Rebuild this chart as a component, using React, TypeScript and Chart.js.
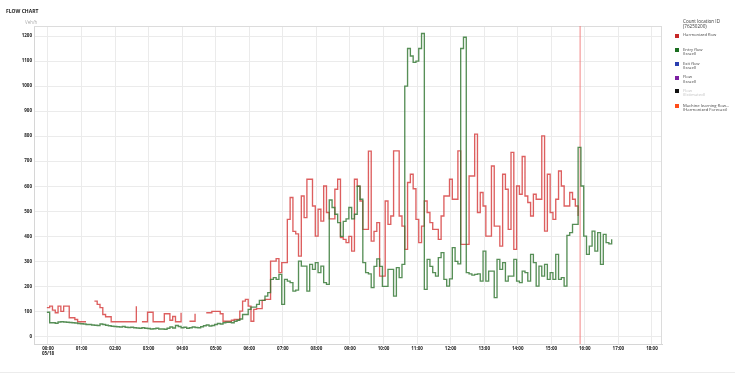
import React, { useEffect, useRef } from "react";
import { Chart, registerables } from "chart.js";

Chart.register(...registerables);

// ---- Data (5-minute intervals starting at 00:00) ----
const STEP_MINUTES = 5;
const DATA_OFFSET_MINUTES = -2;

const HARMONIZED_FLOW: (number | null)[] = [
  115, 121, 105, 95, 121, 100, 121, 121, 75, 75, 68, 59,
  59, 59, 59, null, null, 141, 128, 115, 88, 79, 79, 59,
  59, 59, 59, 59, 59, 59, 59, 59, 121, null, 59, 59,
  97, 97, 59, 59, 59, 59, 91, 91, 65, 80, 59, 59,
  95, null, null, 61, 61, 91, null, null, null, 95, 95, 100,
  100, 100, 91, 61, 61, 61, 65, 68, 68, 101, 141, 148,
  121, 61, 108, 111, 111, 144, 148, 148, 301, 301, 311, 255,
  295, 295, 468, 555, 420, 410, 321, 561, 475, 628, 628, 521,
  401, 508, 461, 601, 495, 470, 470, 588, 628, 395, 388, 375,
  400, 341, 628, 600, 541, 428, 428, 740, 381, 420, 455, 241,
  241, 541, 448, 481, 741, 741, 481, 441, 348, 615, 648, 590,
  468, 375, 441, 541, 495, 455, 428, 428, 388, 481, 561, 561,
  628, 548, 548, 741, 368, 368, 368, 641, 641, 808, 495, 575,
  521, 401, 401, 681, 441, 441, 361, 648, 588, 428, 735, 348,
  601, 568, 719, 561, 535, 481, 568, 548, 548, 801, 421, 648,
  495, 468, 548, 661, 601, 521, 521, 575, 548, 521, 481,
];

const ENTRY_FLOW: number[] = [
  97, 55, 55, 53, 58, 59, 58, 57, 56, 55, 54, 52,
  51, 50, 48, 48, 46, 45, 44, 50, 48, 45, 43, 41,
  40, 39, 38, 40, 37, 36, 37, 35, 34, 33, 35, 33,
  32, 30, 31, 33, 30, 30, 29, 33, 38, 34, 44, 40,
  35, 37, 33, 35, 38, 36, 35, 39, 43, 46, 42, 44,
  48, 52, 50, 55, 57, 57, 55, 61, 65, 70, 88, 88,
  108, 117, 117, 128, 144, 144, 161, 175, 228, 235, 228, 248,
  128, 228, 221, 215, 181, 185, 301, 281, 281, 181, 288, 268,
  295, 255, 281, 215, 208, 545, 515, 488, 455, 400, 460, 470,
  515, 470, 488, 600, 548, 295, 255, 250, 195, 280, 310, 280,
  200, 200, 268, 268, 161, 275, 235, 288, 1000, 1150, 1120, 1095,
  1100, 1150, 1210, 188, 308, 280, 255, 241, 315, 335, 228, 201,
  230, 355, 300, 290, 1150, 1195, 255, 250, 245, 248, 250, 221,
  341, 221, 261, 261, 155, 308, 268, 295, 221, 241, 241, 308,
  221, 215, 261, 255, 221, 328, 295, 201, 281, 241, 288, 228,
  255, 228, 328, 228, 235, 201, 404, 415, 448, 448, 755, 601,
  401, 328, 361, 421, 341, 415, 288, 408, 375, 370, 388,
];

const HOUR_TICKS = [0, 1, 2, 3, 4, 5, 6, 7, 8, 9, 10, 11, 12, 13, 14, 15, 16, 17, 18];
const HOUR_LABELS = [
  "00:00", "01:00", "02:00", "03:00", "04:00", "05:00", "06:00", "07:00", "08:00", "09:00",
  "10:00", "11:00", "12:00", "13:00", "14:00", "15:00", "16:00", "17:00", "18:00",
];
const DATE_LABEL = "05/18";
const Y_TICKS = [0, 100, 200, 300, 400, 500, 600, 700, 800, 900, 1000, 1100, 1200];
const X_MIN = -0.417;
const X_MAX = 18.3;
const Y_MIN = -30;
const Y_MAX = 1240;
const NOW_HOUR = 15.86;

const TITLE = "FLOW CHART";
const UNIT = "Veh/h";
const LEGEND_TITLE = ["Count location ID", "(76250200)"];
const LEGEND_LABELS = [
  ["Harmonized flow"],
  ["Entry flow", "(Israel)"],
  ["Exit flow", "(Israel)"],
  ["Flow", "(Israel)"],
  ["Flow", "(Estimated)"],
  ["Machine learning flow...", "(Harmonized Forecast)"],
];
const LEGEND_COLORS = ["#c62828", "#1b6e20", "#2b3fb0", "#7b1fa2", "#111111", "#ff4d1a"];
const LEGEND_DISABLED = [false, false, false, false, true, false];

const FONT = '"Open Sans", "Noto Sans", sans-serif';

const toPoints = (arr: (number | null)[]) =>
  arr.map((v, i) => ({ x: (i * STEP_MINUTES + DATA_OFFSET_MINUTES) / 60, y: v }));

const framePlugin = {
  id: "frame",
  beforeDatasetsDraw(chart: any) {
    const { ctx, chartArea: a } = chart;
    ctx.save();
    ctx.strokeStyle = "#dcdcdc";
    ctx.lineWidth = 1;
    ctx.beginPath();
    ctx.moveTo(a.left, Math.round(a.top) + 0.5);
    ctx.lineTo(a.right, Math.round(a.top) + 0.5);
    ctx.moveTo(Math.round(a.right) - 0.5, a.top);
    ctx.lineTo(Math.round(a.right) - 0.5, a.bottom);
    ctx.stroke();
    ctx.restore();
  },
};

export default function App() {
  const ref = useRef<HTMLCanvasElement>(null);

  useEffect(() => {
    document.body.style.margin = "0";
    const chart = new Chart(ref.current as HTMLCanvasElement, {
      type: "line",
      data: {
        datasets: [
          {
            label: "Entry flow",
            data: toPoints(ENTRY_FLOW) as any,
            borderColor: "rgba(50,118,50,0.82)",
            borderWidth: 1.35,
            stepped: true,
            pointRadius: 0,
            fill: false,
            order: 0,
          },
          {
            label: "Harmonized flow",
            data: toPoints(HARMONIZED_FLOW) as any,
            borderColor: "rgba(212,55,55,0.8)",
            borderWidth: 1.35,
            stepped: true,
            pointRadius: 0,
            fill: false,
            spanGaps: false,
            order: 1,
          },
          {
            label: "now",
            data: [
              { x: NOW_HOUR, y: Y_MIN },
              { x: NOW_HOUR, y: Y_MAX },
            ] as any,
            borderColor: "rgba(240,110,110,0.65)",
            borderWidth: 1.3,
            pointRadius: 0,
            order: 2,
          },
        ],
      },
      options: {
        responsive: false,
        devicePixelRatio: 1,
        animation: false,
        events: [],
        layout: { padding: { top: 26, right: 73, left: 0, bottom: 0 } },
        plugins: {
          legend: { display: false },
          tooltip: { enabled: false },
          title: { display: false },
        },
        scales: {
          x: {
            type: "linear",
            min: X_MIN,
            max: X_MAX,
            afterBuildTicks: (s: any) => {
              s.ticks = HOUR_TICKS.map((v) => ({ value: v }));
            },
            afterFit: (s: any) => {
              s.height = 34;
            },
            ticks: {
              autoSkip: false,
              maxRotation: 0,
              padding: 2,
              color: "#222",
              font: { size: 4.5, weight: "bold", family: FONT, lineHeight: 1.1 },
              callback: (v: any) => {
                const idx = HOUR_TICKS.indexOf(Number(v));
                if (idx < 0) return "";
                return idx === 0 ? [HOUR_LABELS[idx], DATE_LABEL] : HOUR_LABELS[idx];
              },
            },
            grid: { color: "#ebebeb", drawTicks: false, lineWidth: 1 },
            border: { color: "#d6d6d6" },
          },
          y: {
            min: Y_MIN,
            max: Y_MAX,
            afterBuildTicks: (s: any) => {
              s.ticks = Y_TICKS.map((v) => ({ value: v }));
            },
            afterFit: (s: any) => {
              s.width = 34;
            },
            ticks: {
              padding: 2,
              color: "#222",
              font: { size: 4.5, weight: "bold", family: FONT },
              callback: (v: any) => String(v),
            },
            grid: { color: "#ebebeb", drawTicks: false, lineWidth: 1 },
            border: { color: "#d6d6d6" },
          },
        },
      },
      plugins: [framePlugin],
    } as any);
    return () => chart.destroy();
  }, []);

  return (
    <div
      style={{
        position: "relative",
        width: 735,
        height: 378,
        background: "#fff",
        fontFamily: FONT,
        overflow: "hidden",
      }}
    >
      <canvas
        ref={ref}
        width={735}
        height={378}
        style={{ position: "absolute", left: 0, top: 0, width: 735, height: 378 }}
      />
      <div
        style={{
          position: "absolute",
          left: 6,
          top: 8,
          fontSize: 5,
          fontWeight: 700,
          color: "#222",
          lineHeight: "6px",
          whiteSpace: "nowrap",
        }}
      >
        {TITLE}
      </div>
      <div
        style={{
          position: "absolute",
          left: 25,
          top: 20,
          fontSize: 4.5,
          color: "#aaa",
          lineHeight: "5px",
        }}
      >
        {UNIT}
      </div>
      <div
        style={{
          position: "absolute",
          left: 683,
          top: 19,
          fontSize: 4.6,
          color: "#333",
          lineHeight: "4.6px",
          whiteSpace: "nowrap",
        }}
      >
        {LEGEND_TITLE.map((t, i) => (
          <div key={i}>{t}</div>
        ))}
      </div>
      {LEGEND_LABELS.map((lines, i) => {
        const tops = [33.5, 48, 62, 75.5, 89, 104];
        return (
          <div key={i} style={{ position: "absolute", left: 675, top: tops[i], whiteSpace: "nowrap" }}>
            <div
              style={{
                position: "absolute",
                left: 0,
                top: 0,
                width: 4,
                height: 4,
                background: LEGEND_COLORS[i],
              }}
            />
            <div
              style={{
                position: "absolute",
                left: 8,
                top: -0.3,
                fontSize: 4.2,
                lineHeight: "4.3px",
                color: LEGEND_DISABLED[i] ? "#c4c4c4" : "#444",
              }}
            >
              {lines.map((t, j) => (
                <div key={j}>{t}</div>
              ))}
            </div>
          </div>
        );
      })}
      <div
        style={{ position: "absolute", left: 0, top: 372, width: 735, height: 1, background: "#ececec" }}
      />
    </div>
  );
}
